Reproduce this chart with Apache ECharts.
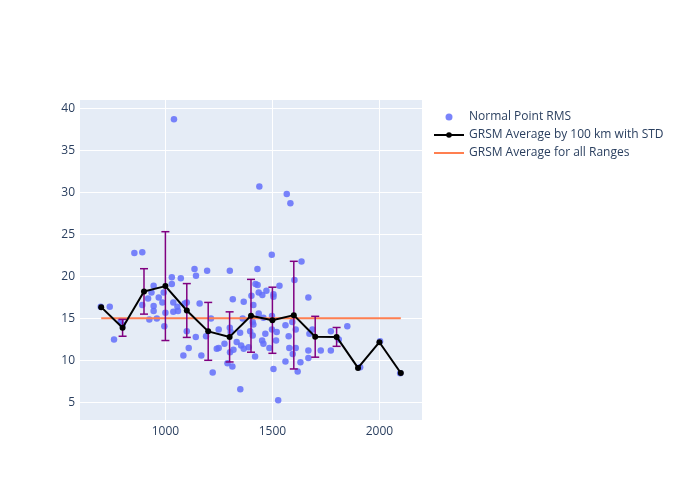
<!DOCTYPE html>
<html><head><meta charset="utf-8">
<script src="https://cdn.jsdelivr.net/npm/echarts@6/dist/echarts.min.js"></script>
<style>html,body{margin:0;padding:0;background:#fff}#c{width:700px;height:500px}</style>
</head><body><div id="c"></div>
<script>
const pointX = [698,740,760,791,800,855,892,892,919,935,945,945,945,925,960,969,986,992,995,1000,1030,1030,1040,1037,1037,1056,1059,1072,1090,1100,1084,1100,1109,1136,1143,1142,1160,1168,1195,1190,1213,1221,1240,1249,1249,1276,1290,1301,1301,1305,1302,1315,1318,1313,1333,1350,1354,1366,1361,1366,1349,1389,1402,1396,1411,1408,1411,1408,1419,1421,1431,1430,1439,1436,1436,1453,1458,1452,1458,1467,1472,1486,1497,1505,1505,1498,1498,1505,1517,1520,1527,1533,1567,1584,1561,1561,1576,1579,1593,1595,1603,1609,1609,1618,1631,1636,1668,1668,1668,1673,1687,1726,1773,1773,1810,1850,1910,2003,2097];
const pointY = [16.4,16.4,12.5,14.7,14.3,22.8,22.9,16.6,17.4,18.1,18.9,16.5,15.9,14.9,15.0,17.5,16.9,18.1,14.1,15.7,19.9,19.1,38.7,16.9,15.8,16.4,15.9,19.8,16.8,16.9,10.6,13.5,11.5,20.9,20.1,12.8,16.8,10.6,20.7,12.9,15.0,8.6,11.4,11.5,13.7,12.0,9.7,20.7,13.9,13.4,11.0,17.3,11.3,9.3,12.2,6.6,11.8,17.0,15.0,11.4,13.3,11.6,17.7,13.5,16.6,14.6,14.3,13.0,10.5,19.1,19.0,20.9,30.7,18.1,15.6,17.8,15.1,12.4,12.0,13.2,18.3,11.5,22.6,17.9,17.6,13.7,15.3,9.0,12.4,13.4,5.3,18.9,29.8,28.7,14.2,9.9,12.9,11.5,14.6,10.8,19.6,13.7,11.5,8.7,9.8,21.8,17.5,11.2,10.3,13.2,13.7,11.2,13.5,11.2,12.5,14.1,9.2,12.3,8.5];
const avgX = [700,800,900,1000,1100,1200,1300,1400,1500,1600,1700,1800,1900,2000,2100];
const avgY = [16.36,13.9,18.23,18.86,15.96,13.48,12.82,15.33,14.8,15.41,12.84,12.82,9.13,12.19,8.53];
const avgStd = [0,1.0,2.7,6.47,3.2,3.44,2.98,4.33,3.93,6.4,2.43,1.12,0,0,0];
const overallAvg = 15.05;
const overallX = [700,2100];
const xTicks = [1000,1500,2000];
const yTicks = [5,10,15,20,25,30,35,40];

const scatterData = pointX.map((x,i)=>[x,pointY[i]]);
const avgData = avgX.map((x,i)=>[x,avgY[i]]);
const errData = avgX.map((x,i)=>[x,avgY[i]-avgStd[i],avgY[i]+avgStd[i]]).filter((d,i)=>avgStd[i]>0);
const txt = '#2a3f5f';
const font = '"Open Sans", "DejaVu Sans", sans-serif';
const chart = echarts.init(document.getElementById('c'));
chart.setOption({
  backgroundColor:'#fff',
  animation:false,
  textStyle:{fontFamily:font},
  grid:{left:80,right:278,top:100,bottom:80,show:true,backgroundColor:'#e5ecf6',borderWidth:0},
  xAxis:{type:'value',min:601,max:2199,
    axisLine:{show:false},axisTick:{show:false,customValues:xTicks},
    axisLabel:{customValues:xTicks,color:txt,fontSize:12,fontFamily:font,margin:6,formatter:v=>String(v)},
    splitLine:{show:true,lineStyle:{color:'#fff',width:1}}},
  yAxis:{type:'value',min:2.94,max:40.99,
    axisLine:{show:false},axisTick:{show:false,customValues:yTicks},
    axisLabel:{customValues:yTicks,color:txt,fontSize:12,fontFamily:font,margin:5},
    splitLine:{show:true,lineStyle:{color:'#fff',width:1}}},
  legend:{orient:'vertical',left:428,top:105,itemGap:4,itemWidth:30,itemHeight:7,
    textStyle:{color:txt,fontSize:12,fontFamily:font,lineHeight:14},
    data:[{name:'Normal Point RMS',icon:'circle',itemStyle:{color:'#636efa'}},
          {name:'GRSM Average by 100 km with STD'},
          {name:'GRSM Average for all Ranges',icon:'path://M0,0 H30 V2 H0 Z',itemStyle:{color:'#ff7f50'}}]},
  series:[
    {name:'Normal Point RMS',type:'scatter',data:scatterData,symbolSize:6.5,
     itemStyle:{color:'#636efa',opacity:0.85},z:2},
    {name:'GRSM Average for all Ranges',type:'line',data:overallX.map(x=>[x,overallAvg]),
     symbol:'none',lineStyle:{color:'#ff7f50',width:2},itemStyle:{color:'#ff7f50'},z:3},
    {name:'errbars',type:'custom',z:4,data:errData,
     renderItem:function(params,api){
       const x=api.value(0),lo=api.coord([x,api.value(1)]),hi=api.coord([x,api.value(2)]);
       const w=4;const st={stroke:'#800080',lineWidth:1.5};
       return {type:'group',children:[
         {type:'line',shape:{x1:lo[0],y1:lo[1],x2:hi[0],y2:hi[1]},style:st},
         {type:'line',shape:{x1:lo[0]-w,y1:lo[1],x2:lo[0]+w,y2:lo[1]},style:st},
         {type:'line',shape:{x1:hi[0]-w,y1:hi[1],x2:hi[0]+w,y2:hi[1]},style:st}]};
     }},
    {name:'GRSM Average by 100 km with STD',type:'line',data:avgData,symbol:'circle',symbolSize:6,
     lineStyle:{color:'#000',width:2},itemStyle:{color:'#000'},z:5}
  ]
});
</script></body></html>
